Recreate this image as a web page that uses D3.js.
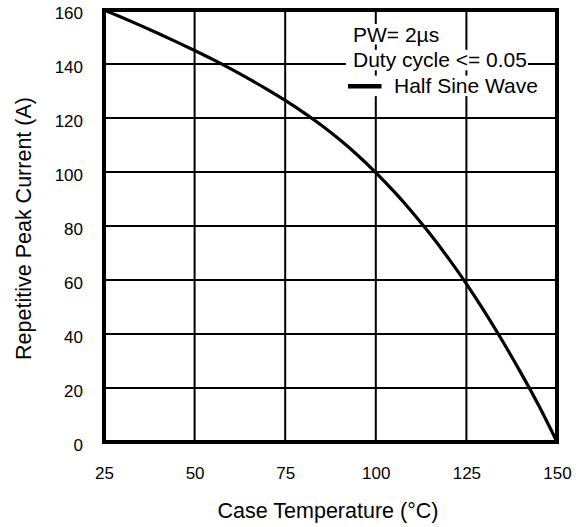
<!DOCTYPE html>
<html>
<head>
<meta charset="utf-8">
<script src="https://cdn.jsdelivr.net/npm/d3@7"></script>
<style>
  body { margin: 0; background: #fff; }
  text { font-family: "Liberation Sans", Arial, Helvetica, sans-serif; fill: #000; }
</style>
</head>
<body>
<div id="figure-holder"></div>
<script>
// curve
const temps = [25, 30, 35, 40, 45, 50, 55, 60, 65, 70, 75, 80, 85, 90, 95, 100, 105, 110, 115, 120, 125, 130, 135, 140, 145, 150];
const peakCurrent = [160, 157.2, 154.3, 151.3, 148.2, 145.0, 141.7, 138.2, 134.5, 130.6, 126.5, 122.1, 117.3, 112.0, 106.2, 99.8, 92.8, 85.2, 77.0, 68.1, 58.6, 48.3, 37.3, 25.7, 13.4, 0];
const xTicks = [25, 50, 75, 100, 125, 150];
const yTicks = [0, 20, 40, 60, 80, 100, 120, 140, 160];
const legendLines = ["PW= 2µs", "Duty cycle <= 0.05", "Half Sine Wave"];

const PLOT_CONFIG = {
    realWidth: 584,
    realHeight: 527,
    margin: { top: 10, right: 27, bottom: 85, left: 104 },
    tickFont: 17,
    titleFont: 21.5,
    legendFont: 21
};
PLOT_CONFIG.width = PLOT_CONFIG.realWidth - PLOT_CONFIG.margin.left - PLOT_CONFIG.margin.right;
PLOT_CONFIG.height = PLOT_CONFIG.realHeight - PLOT_CONFIG.margin.top - PLOT_CONFIG.margin.bottom;

const deratingChart = () => {
    const { realWidth, realHeight, margin, width, height, tickFont, titleFont, legendFont } = PLOT_CONFIG;

    const root = d3.select('#figure-holder').append('svg')
        .attr('width', realWidth)
        .attr('height', realHeight);

    const svg = root.append('g')
        .attr('transform', `translate(${margin.left}, ${margin.top})`);

    const x = d3.scaleLinear().domain([25, 150]).range([0, width]);
    const y = d3.scaleLinear().domain([0, 160]).range([height, 0]);

    // grid lines (inner only, the frame is drawn later)
    svg.append('g')
        .selectAll('line.vgrid')
        .data(xTicks.slice(1, -1))
        .join('line')
        .attr('x1', d => x(d)).attr('x2', d => x(d))
        .attr('y1', 0).attr('y2', height)
        .style('stroke', '#000')
        .style('stroke-width', 2);

    svg.append('g')
        .selectAll('line.hgrid')
        .data(yTicks.slice(1, -1))
        .join('line')
        .attr('x1', 0).attr('x2', width)
        .attr('y1', d => y(d)).attr('y2', d => y(d))
        .style('stroke', '#000')
        .style('stroke-width', 2);

    // x axis labels
    const xAxis = svg.append('g')
        .attr('id', 'x-axis')
        .attr('transform', `translate(0, ${height})`)
        .call(d3.axisBottom(x).tickValues(xTicks).tickSize(0).tickPadding(25));
    xAxis.select('.domain').remove();
    xAxis.selectAll('text')
        .style('font-size', `${tickFont}px`)
        .style('font-family', '"Liberation Sans", Arial, sans-serif');

    // y axis labels
    const yAxis = svg.append('g')
        .attr('id', 'y-axis')
        .call(d3.axisLeft(y).tickValues(yTicks).tickSize(0).tickPadding(21));
    yAxis.select('.domain').remove();
    yAxis.selectAll('text')
        .attr('dy', '0.5em')
        .style('font-size', `${tickFont}px`)
        .style('font-family', '"Liberation Sans", Arial, sans-serif');

    // legend text boxes sit on white so the grid breaks behind them
    const legend = svg.append('g').attr('transform', `translate(${x(25) + 249}, 0)`);
    const lineGap = 25.8;
    legendLines.forEach((label, i) => {
        const isLast = i === legendLines.length - 1;
        const row = legend.append('g');
        const txt = row.append('text')
            .text(label)
            .attr('x', isLast ? 41 : 0)
            .attr('y', 31.5 + i * lineGap)
            .style('font-size', `${legendFont}px`);
        const bb = txt.node().getBBox();
        row.insert('rect', 'text')
            .attr('x', isLast ? -6 : bb.x - 7)
            .attr('y', bb.y + 1.5)
            .attr('width', (isLast ? bb.x + bb.width + 6 : bb.width + 8))
            .attr('height', bb.height - 2.5)
            .style('fill', '#fff');
        if (isLast) {
            row.append('line')
                .attr('x1', -5).attr('x2', 28.5)
                .attr('y1', 24.7 + i * lineGap).attr('y2', 24.7 + i * lineGap)
                .style('stroke', '#000')
                .style('stroke-width', 4.5);
        }
    });

    // the derating curve
    const line = d3.line()
        .x((d, i) => x(temps[i]))
        .y(d => y(d))
        .curve(d3.curveMonotoneX);

    svg.append('path')
        .datum(peakCurrent)
        .attr('d', line)
        .style('fill', 'none')
        .style('stroke', '#000')
        .style('stroke-width', 3.2);

    // frame
    svg.append('rect')
        .attr('x', 0).attr('y', 0)
        .attr('width', width).attr('height', height)
        .style('fill', 'none')
        .style('stroke', '#000')
        .style('stroke-width', 4);

    // axis titles
    root.append('text')
        .text('Case Temperature (°C)')
        .attr('x', 328)
        .attr('y', 518)
        .attr('text-anchor', 'middle')
        .style('font-size', `${titleFont}px`);

    root.append('text')
        .text('Repetitive Peak Current (A)')
        .attr('transform', `translate(31, ${margin.top + height / 2 + 2.5}) rotate(-90)`)
        .attr('text-anchor', 'middle')
        .style('font-size', `${titleFont}px`);
}

deratingChart();
</script>
</body>
</html>
